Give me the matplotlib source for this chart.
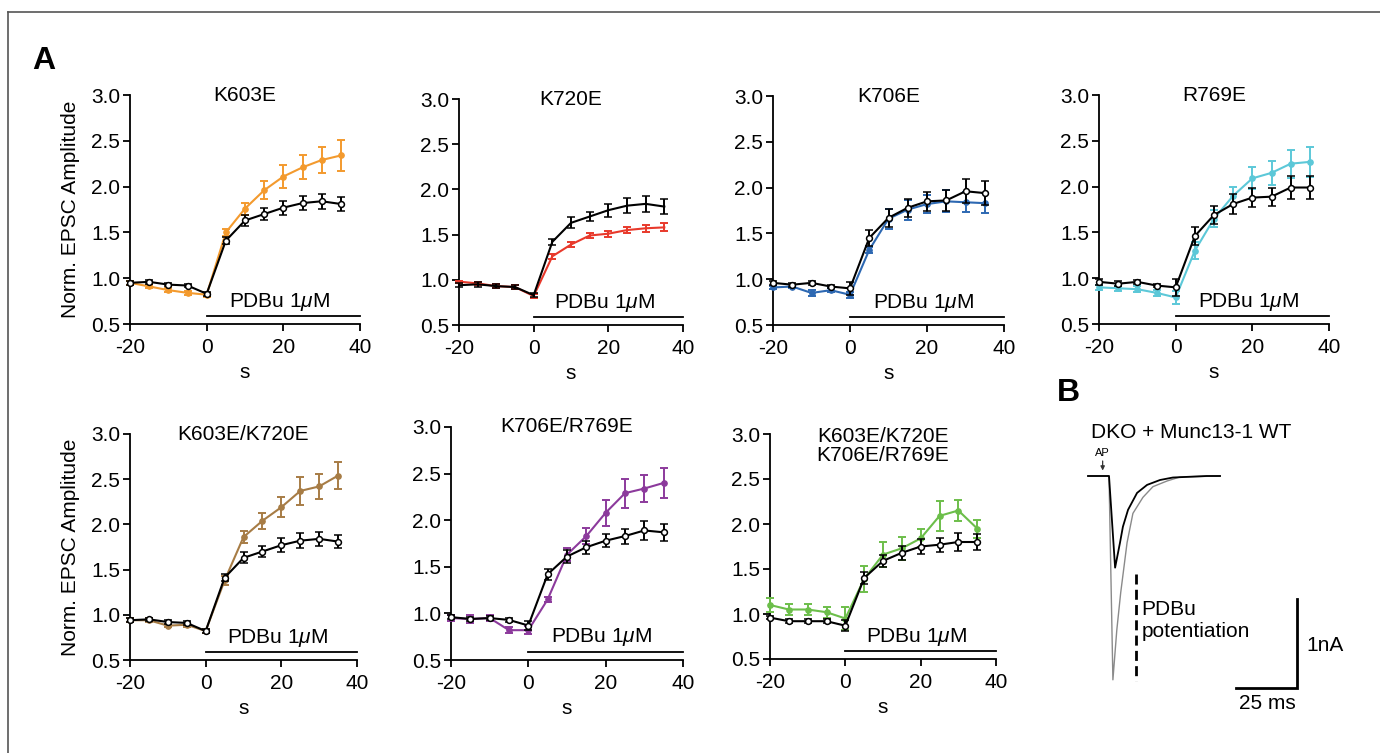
import matplotlib
matplotlib.use('Agg')
import matplotlib.pyplot as plt
from matplotlib.lines import Line2D

plt.rcParams['font.family'] = ['Liberation Sans', 'DejaVu Sans']
plt.rcParams['mathtext.fontset'] = 'custom'
plt.rcParams['mathtext.it'] = 'Liberation Sans:italic'
plt.rcParams['mathtext.rm'] = 'Liberation Sans'
plt.rcParams['axes.unicode_minus'] = False

# ---------------- data ----------------
time_s = [-20, -15, -10, -5, 0, 5, 10, 15, 20, 25, 30, 35]

titles = ['K603E', 'K720E', 'K706E', 'R769E', 'K603E/K720E', 'K706E/R769E',
          'K603E/K720E\nK706E/R769E']
colors = ['#F39A2E', '#E8392B', '#2D68B2', '#5CC8D8', '#A77C45', '#8C3A9C', '#6CBE4A']

wt_1 = [0.95, 0.96, 0.93, 0.92, 0.83, 1.41, 1.63, 1.70, 1.77, 1.82, 1.84, 1.81]
wt_1_err = [0.02, 0.02, 0.02, 0.02, 0.02, 0.04, 0.06, 0.065, 0.075, 0.08, 0.08, 0.075]
mut_1 = [0.95, 0.91, 0.87, 0.84, 0.82, 1.50, 1.76, 1.96, 2.11, 2.21, 2.29, 2.34]
mut_1_err = [0.02, 0.02, 0.02, 0.02, 0.02, 0.04, 0.065, 0.10, 0.13, 0.13, 0.14, 0.165]

wt_2 = [0.94, 0.95, 0.93, 0.92, 0.83, 1.42, 1.63, 1.70, 1.77, 1.82, 1.84, 1.81]
wt_2_err = [0.02, 0.025, 0.02, 0.025, 0.025, 0.035, 0.06, 0.05, 0.07, 0.08, 0.085, 0.08]
mut_2 = [0.98, 0.96, 0.93, 0.92, 0.82, 1.26, 1.39, 1.49, 1.51, 1.55, 1.57, 1.58]
mut_2_err = [0.01, 0.015, 0.02, 0.02, 0.02, 0.03, 0.03, 0.03, 0.035, 0.035, 0.04, 0.045]

wt_3 = [0.96, 0.94, 0.96, 0.92, 0.90, 1.45, 1.67, 1.78, 1.85, 1.86, 1.96, 1.94]
wt_3_err = [0.02, 0.02, 0.02, 0.02, 0.07, 0.09, 0.10, 0.10, 0.10, 0.11, 0.13, 0.13]
mut_3 = [0.91, 0.92, 0.85, 0.88, 0.83, 1.32, 1.66, 1.76, 1.82, 1.85, 1.84, 1.83]
mut_3_err = [0.02, 0.02, 0.03, 0.02, 0.03, 0.03, 0.11, 0.11, 0.10, 0.12, 0.11, 0.11]

wt_4 = [0.96, 0.94, 0.96, 0.92, 0.90, 1.46, 1.69, 1.81, 1.88, 1.89, 1.99, 1.99]
wt_4_err = [0.03, 0.03, 0.02, 0.02, 0.09, 0.10, 0.10, 0.11, 0.10, 0.10, 0.13, 0.13]
mut_4 = [0.90, 0.89, 0.88, 0.84, 0.79, 1.30, 1.65, 1.90, 2.09, 2.15, 2.25, 2.27]
mut_4_err = [0.03, 0.03, 0.03, 0.03, 0.075, 0.09, 0.09, 0.10, 0.12, 0.13, 0.155, 0.165]

wt_5 = [0.94, 0.95, 0.92, 0.91, 0.82, 1.41, 1.63, 1.70, 1.77, 1.82, 1.84, 1.81]
wt_5_err = [0.02, 0.02, 0.02, 0.02, 0.02, 0.04, 0.06, 0.065, 0.075, 0.08, 0.08, 0.075]
mut_5 = [0.94, 0.94, 0.88, 0.89, 0.82, 1.38, 1.86, 2.04, 2.19, 2.37, 2.42, 2.54]
mut_5_err = [0.02, 0.02, 0.02, 0.02, 0.02, 0.05, 0.07, 0.09, 0.11, 0.15, 0.14, 0.15]

wt_6 = [0.96, 0.94, 0.95, 0.93, 0.87, 1.42, 1.61, 1.71, 1.78, 1.83, 1.89, 1.87]
wt_6_err = [0.02, 0.02, 0.02, 0.02, 0.05, 0.06, 0.07, 0.07, 0.07, 0.08, 0.10, 0.09]
mut_6 = [0.95, 0.94, 0.95, 0.82, 0.82, 1.15, 1.63, 1.83, 2.08, 2.29, 2.34, 2.40]
mut_6_err = [0.03, 0.04, 0.03, 0.03, 0.04, 0.03, 0.07, 0.09, 0.14, 0.155, 0.15, 0.165]

wt_7 = [0.96, 0.92, 0.92, 0.92, 0.87, 1.40, 1.59, 1.68, 1.75, 1.77, 1.80, 1.80]
wt_7_err = [0.02, 0.02, 0.02, 0.02, 0.06, 0.07, 0.07, 0.08, 0.08, 0.08, 0.10, 0.09]
mut_7 = [1.10, 1.05, 1.05, 1.02, 0.95, 1.39, 1.66, 1.73, 1.84, 2.09, 2.15, 1.95]
mut_7_err = [0.075, 0.06, 0.06, 0.06, 0.13, 0.14, 0.14, 0.13, 0.10, 0.17, 0.12, 0.10]

wt_list = [wt_1, wt_2, wt_3, wt_4, wt_5, wt_6, wt_7]
wt_err_list = [wt_1_err, wt_2_err, wt_3_err, wt_4_err, wt_5_err, wt_6_err, wt_7_err]
mut_list = [mut_1, mut_2, mut_3, mut_4, mut_5, mut_6, mut_7]
mut_err_list = [mut_1_err, mut_2_err, mut_3_err, mut_4_err, mut_5_err, mut_6_err, mut_7_err]

y_ticks = [0.5, 1.0, 1.5, 2.0, 2.5, 3.0]
x_ticks = [-20, 0, 20, 40]

# panel B traces (ms, nA)
trace_wt_t = [-8.6, 0, 2.5, 4.5, 5.7, 7.8, 11.5, 15.6, 20.9, 26.2, 40, 45.5]
trace_wt_i = [0, 0, -1.03, -0.75, -0.57, -0.38, -0.19, -0.10, -0.045, -0.017, 0, 0]
trace_pdbu_t = [-8.6, 0, 1.6, 3.2, 4.8, 7.4, 9.8, 13.9, 18.0, 23.8, 29.1, 45.5]
trace_pdbu_i = [0, 0, -2.29, -1.73, -1.31, -0.75, -0.42, -0.24, -0.12, -0.056, -0.011, 0]

# ---------------- figure ----------------
W, H = 1380, 753
fig = plt.figure(figsize=(W / 100, H / 100), dpi=100)


def px_axes(l, r, t, b):
    return fig.add_axes([l / W, 1 - b / H, (r - l) / W, (b - t) / H])


rects = [(130, 360, 95, 324), (459, 683, 99, 325), (773, 1004, 96, 325), (1099, 1329, 95, 324),
         (130, 357, 434, 660), (451, 683, 427, 660), (770, 996, 434, 659)]
FS = 15

for i, (l, r, t, b) in enumerate(rects):
    ax = px_axes(l, r, t, b)
    hgt = b - t
    wid = r - l
    show_m = (i != 1)
    eb1 = ax.errorbar(time_s, mut_list[i], yerr=mut_err_list[i], color=colors[i],
                      marker='o' if show_m else None, ms=3.8, mfc=colors[i], mec=colors[i],
                      lw=1.5, elinewidth=1.4, capsize=2.6, capthick=1.4, zorder=3)
    eb2 = ax.errorbar(time_s, wt_list[i], yerr=wt_err_list[i], color='black',
                      marker='o' if show_m else None, ms=4.2, mfc='white', mec='black', mew=1.1,
                      lw=1.5, elinewidth=1.4, capsize=2.6, capthick=1.4, zorder=4)
    for eb in (eb1, eb2):
        for ch in eb.get_children():
            ch.set_clip_on(False)
    ax.set_xlim(-20, 40)
    ax.set_ylim(0.5, 3.0)
    ax.set_xticks(x_ticks)
    ax.set_xticklabels([str(v) for v in x_ticks])
    ax.set_yticks(y_ticks)
    ax.set_yticklabels(['%.1f' % v for v in y_ticks])
    for s in ('top', 'right'):
        ax.spines[s].set_visible(False)
    for s in ('left', 'bottom'):
        ax.spines[s].set_linewidth(1.3)
    ax.tick_params(axis='both', direction='out', length=5, width=1.3, labelsize=FS)
    ax.tick_params(axis='y', pad=2)
    ax.tick_params(axis='x', pad=5)
    # PDBu bar
    ax.plot([0, 40], [0.585, 0.585], color='black', lw=1.3, clip_on=False)
    ax.text(19, 0.745, r'PDBu 1$\mu$M', ha='center', va='center', fontsize=FS)
    # title
    if '\n' in titles[i]:
        ax.text(0.5, 1 - 12 / hgt, titles[i], transform=ax.transAxes, ha='center',
                va='center', fontsize=FS, linespacing=1.05)
    else:
        ax.text(0.5, 1.0, titles[i], transform=ax.transAxes, ha='center', va='center',
                fontsize=FS)
    ax.set_xlabel('s', fontsize=FS)
    ax.xaxis.set_label_coords(0.5, -39 / hgt)
    if i in (0, 4):
        ax.set_ylabel('Norm. EPSC Amplitude', fontsize=FS)
        ax.yaxis.set_label_coords((80 - l) / wid, 0.5)

# ---------------- panel B ----------------
ms_px = 2.44   # px per ms
na_px = 89.0   # px per nA
x0_px, y0_px = 1109, 476
bl, br, bt, bb = 1080, 1370, 415, 720
axb = px_axes(bl, br, bt, bb)
axb.set_xlim((bl - x0_px) / ms_px, (br - x0_px) / ms_px)
axb.set_ylim((y0_px - bb) / na_px, (y0_px - bt) / na_px)
axb.axis('off')
axb.plot(trace_pdbu_t, trace_pdbu_i, color='#8a8a8a', lw=1.0)
axb.plot(trace_wt_t, trace_wt_i, color='black', lw=1.3)
axb.plot([11.1, 11.1], [-1.10, -2.30], color='black', lw=2.0, ls=(0, (3.6, 1.9)))
axb.text(13.3, -1.62, 'PDBu\npotentiation', ha='left', va='center', fontsize=FS,
         linespacing=1.2)
axb.plot([52, 77, 77], [-2.38, -2.38, -1.38], color='black', lw=2.0, solid_joinstyle='miter')
axb.text(81, -1.9, '1nA', ha='left', va='center', fontsize=FS)
axb.text(65, -2.56, '25 ms', ha='center', va='center', fontsize=FS)
axb.text(-7.2, 0.485, 'DKO + Munc13-1 WT', ha='left', va='center', fontsize=FS)
axb.annotate('', xy=(-2.6, 0.03), xytext=(-2.6, 0.2),
             arrowprops=dict(arrowstyle='-|>', color='#333333', lw=0.9, mutation_scale=6))
axb.text(-2.9, 0.26, 'AP', ha='center', va='center', fontsize=8)

# panel letters
fig.text(44 / W, 1 - 61 / H, 'A', fontsize=23, fontweight='bold', ha='center', va='center')
fig.text(1068 / W, 1 - 393 / H, 'B', fontsize=23, fontweight='bold', ha='center', va='center')

# partial border
fig.add_artist(Line2D([8 / W, 8 / W], [0, 1 - 12 / H], color='#555555', lw=1.2,
                      transform=fig.transFigure))
fig.add_artist(Line2D([8 / W, 1], [1 - 12 / H, 1 - 12 / H], color='#555555', lw=1.2,
                      transform=fig.transFigure))

fig.savefig('out.png', dpi=100)
